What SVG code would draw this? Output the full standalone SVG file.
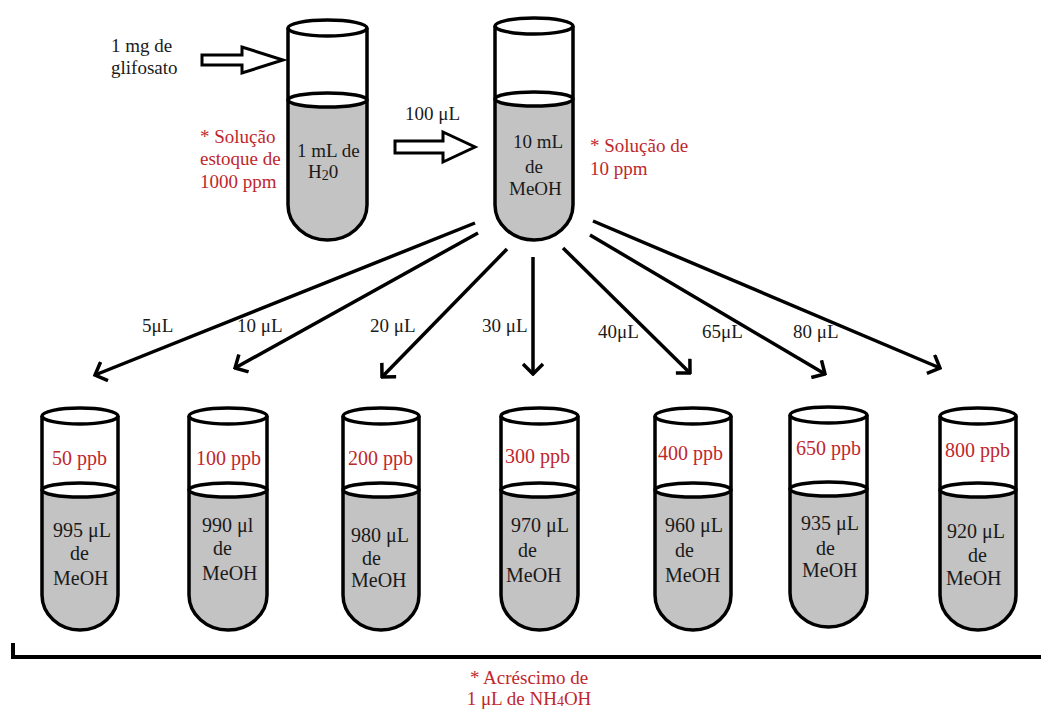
<svg xmlns="http://www.w3.org/2000/svg" width="1041" height="711" viewBox="0 0 1041 711">
<defs>
<style>
text{font-family:"Liberation Serif","Times New Roman",serif;font-size:20px;fill:#1a1a1a}
.red{fill:#c0272d}
.sm{font-size:19px}
.outline{fill:none;stroke:#000;stroke-width:3.5;stroke-linejoin:round}
.bodyw{fill:#fff;stroke:none}
.liq{fill:#c3c3c3;stroke:none}
.ell{fill:#fff;stroke:#000;stroke-width:3.5}
.conn{fill:none;stroke:#000;stroke-width:3.5}
.hollow{fill:#fff;stroke:#000;stroke-width:3;stroke-linejoin:miter}
</style>
<marker id="chev" viewBox="0 0 14 22" refX="12" refY="11" markerWidth="14" markerHeight="22" markerUnits="userSpaceOnUse" orient="auto">
<path d="M2,1 L12,11 L2,21" fill="none" stroke="#000" stroke-width="3.5"/>
</marker>
</defs>
<rect width="1041" height="711" fill="#fff"/>

<g id="source-label">
<text class="sm" x="111" y="52">1 mg de</text>
<text class="sm" x="111" y="74">glifosato</text>
<polygon class="hollow" points="202,55 242,55 242,47 283,60 242,73 242,65 202,65"/>
</g>

<g id="tube-stock">
<path class="bodyw" d="M288,28 L288,205 A39.5,35 0 0 0 367,205 L367,28 Z"/>
<path class="liq" d="M288,100 L288,205 A39.5,35 0 0 0 367,205 L367,100 Z"/>
<ellipse class="ell" cx="327.5" cy="100" rx="39.5" ry="7"/>
<ellipse class="ell" cx="327.5" cy="28" rx="39.5" ry="8"/>
<path class="outline" d="M288,28 L288,205 A39.5,35 0 0 0 367,205 L367,28"/>
<text class="sm" x="297" y="157">1 mL de</text>
<text class="sm" x="308" y="178">H<tspan font-size="14" dy="2">2</tspan><tspan dy="-2">0</tspan></text>
<text class="sm red" x="200" y="143">* Solução</text>
<text class="sm red" x="200" y="165">estoque de</text>
<text class="sm red" x="200" y="188">1000 ppm</text>
</g>

<g id="transfer-100">
<text class="sm" x="405" y="120">100 μL</text>
<polygon class="hollow" points="395,141 443,141 443,132 475,147 443,162 443,153 395,153"/>
</g>

<g id="tube-10ppm">
<path class="bodyw" d="M495,26 L495,205 A39,35 0 0 0 573,205 L573,26 Z"/>
<path class="liq" d="M495,99 L495,205 A39,35 0 0 0 573,205 L573,99 Z"/>
<ellipse class="ell" cx="534" cy="99" rx="39" ry="7"/>
<ellipse class="ell" cx="534" cy="26" rx="39" ry="8"/>
<path class="outline" d="M495,26 L495,205 A39,35 0 0 0 573,205 L573,26"/>
<text class="sm" x="513" y="148">10 mL</text>
<text class="sm" x="525" y="173">de</text>
<text class="sm" x="509" y="195">MeOH</text>
<text class="sm red" x="590" y="152">* Solução de</text>
<text class="sm red" x="590" y="175">10 ppm</text>
</g>

<g id="connectors">
<line class="conn" x1="475" y1="223" x2="95" y2="375" marker-end="url(#chev)"/>
<line class="conn" x1="478" y1="233" x2="235" y2="368" marker-end="url(#chev)"/>
<line class="conn" x1="507" y1="249" x2="382" y2="377" marker-end="url(#chev)"/>
<line class="conn" x1="533" y1="257" x2="533" y2="374" marker-end="url(#chev)"/>
<line class="conn" x1="563" y1="248" x2="690" y2="373" marker-end="url(#chev)"/>
<line class="conn" x1="590" y1="235" x2="825" y2="374" marker-end="url(#chev)"/>
<line class="conn" x1="593" y1="221" x2="940" y2="368" marker-end="url(#chev)"/>
<text class="sm" x="142" y="332">5μL</text>
<text class="sm" x="237" y="332">10 μL</text>
<text class="sm" x="370" y="332">20 μL</text>
<text class="sm" x="482" y="332">30 μL</text>
<text class="sm" x="598" y="338">40μL</text>
<text class="sm" x="702" y="338">65μL</text>
<text class="sm" x="793" y="338">80 μL</text>
</g>

<g id="tube-50ppb">
<path class="bodyw" d="M42,416 L42,595 A38,35 0 0 0 118,595 L118,416 Z"/>
<path class="liq" d="M42,490 L42,595 A38,35 0 0 0 118,595 L118,490 Z"/>
<ellipse class="ell" cx="80" cy="490" rx="38" ry="7"/>
<ellipse class="ell" cx="80" cy="416" rx="38" ry="8"/>
<path class="outline" d="M42,416 L42,595 A38,35 0 0 0 118,595 L118,416"/>
<text class="red" x="52" y="465">50 ppb</text>
<text x="53" y="537">995 μL</text>
<text x="70" y="560">de</text>
<text x="53" y="585">MeOH</text>
</g>

<g id="tube-100ppb">
<path class="bodyw" d="M189,416 L189,595 A39,35 0 0 0 267,595 L267,416 Z"/>
<path class="liq" d="M189,490 L189,595 A39,35 0 0 0 267,595 L267,490 Z"/>
<ellipse class="ell" cx="228" cy="490" rx="39" ry="7"/>
<ellipse class="ell" cx="228" cy="416" rx="39" ry="8"/>
<path class="outline" d="M189,416 L189,595 A39,35 0 0 0 267,595 L267,416"/>
<text class="red" x="196" y="465">100 ppb</text>
<text x="202" y="532">990 μl</text>
<text x="213" y="555">de</text>
<text x="202" y="580">MeOH</text>
</g>

<g id="tube-200ppb">
<path class="bodyw" d="M343,416 L343,595 A38,35 0 0 0 419,595 L419,416 Z"/>
<path class="liq" d="M343,490 L343,595 A38,35 0 0 0 419,595 L419,490 Z"/>
<ellipse class="ell" cx="381" cy="490" rx="38" ry="7"/>
<ellipse class="ell" cx="381" cy="416" rx="38" ry="8"/>
<path class="outline" d="M343,416 L343,595 A38,35 0 0 0 419,595 L419,416"/>
<text class="red" x="348" y="465">200 ppb</text>
<text x="351" y="542">980 μL</text>
<text x="362" y="565">de</text>
<text x="351" y="587">MeOH</text>
</g>

<g id="tube-300ppb">
<path class="bodyw" d="M501,416 L501,595 A38.5,35 0 0 0 578,595 L578,416 Z"/>
<path class="liq" d="M501,490 L501,595 A38.5,35 0 0 0 578,595 L578,490 Z"/>
<ellipse class="ell" cx="539.5" cy="490" rx="38.5" ry="7"/>
<ellipse class="ell" cx="539.5" cy="416" rx="38.5" ry="8"/>
<path class="outline" d="M501,416 L501,595 A38.5,35 0 0 0 578,595 L578,416"/>
<text class="red" x="505" y="463">300 ppb</text>
<text x="511" y="532">970 μL</text>
<text x="518" y="557">de</text>
<text x="506" y="582">MeOH</text>
</g>

<g id="tube-400ppb">
<path class="bodyw" d="M655,416 L655,595 A38,35 0 0 0 731,595 L731,416 Z"/>
<path class="liq" d="M655,490 L655,595 A38,35 0 0 0 731,595 L731,490 Z"/>
<ellipse class="ell" cx="693" cy="490" rx="38" ry="7"/>
<ellipse class="ell" cx="693" cy="416" rx="38" ry="8"/>
<path class="outline" d="M655,416 L655,595 A38,35 0 0 0 731,595 L731,416"/>
<text class="red" x="658" y="460">400 ppb</text>
<text x="665" y="532">960 μL</text>
<text x="675" y="557">de</text>
<text x="665" y="582">MeOH</text>
</g>

<g id="tube-650ppb">
<path class="bodyw" d="M790,415 L790,593 A38.5,34 0 0 0 867,593 L867,415 Z"/>
<path class="liq" d="M790,489 L790,593 A38.5,34 0 0 0 867,593 L867,489 Z"/>
<ellipse class="ell" cx="828.5" cy="489" rx="38.5" ry="7"/>
<ellipse class="ell" cx="828.5" cy="415" rx="38.5" ry="8"/>
<path class="outline" d="M790,415 L790,593 A38.5,34 0 0 0 867,593 L867,415"/>
<text class="red" x="796" y="455">650 ppb</text>
<text x="801" y="530">935 μL</text>
<text x="816" y="555">de</text>
<text x="802" y="577">MeOH</text>
</g>

<g id="tube-800ppb">
<path class="bodyw" d="M940,416 L940,595 A38,35 0 0 0 1016,595 L1016,416 Z"/>
<path class="liq" d="M940,490 L940,595 A38,35 0 0 0 1016,595 L1016,490 Z"/>
<ellipse class="ell" cx="978" cy="490" rx="38" ry="7"/>
<ellipse class="ell" cx="978" cy="416" rx="38" ry="8"/>
<path class="outline" d="M940,416 L940,595 A38,35 0 0 0 1016,595 L1016,416"/>
<text class="red" x="945" y="457">800 ppb</text>
<text x="947" y="538">920 μL</text>
<text x="968" y="562">de</text>
<text x="946" y="585">MeOH</text>
</g>

<g id="bracket">
<path d="M13,643 L13,657 L1041,657" fill="none" stroke="#000" stroke-width="4"/>
<text class="sm red" x="529" y="684" text-anchor="middle">* Acréscimo de</text>
<text class="sm red" x="529" y="705" text-anchor="middle">1 μL de NH<tspan font-size="14" dy="1">4</tspan><tspan dy="-1">OH</tspan></text>
</g>
</svg>
